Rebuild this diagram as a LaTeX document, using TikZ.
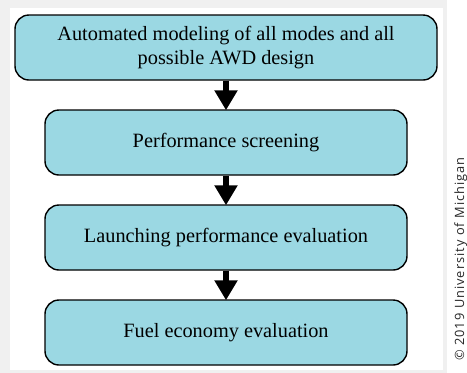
\documentclass[tikz,border=0pt]{standalone}
\usepackage{fontspec}
\setmainfont{Liberation Serif}
\newfontfamily\creditfont[LetterSpace=8]{Open Sans}
\usepackage{tikz}
\usetikzlibrary{arrows.meta,positioning}

\definecolor{stepfill}{RGB}{155,216,227}

\begin{document}
\begin{tikzpicture}[
    x=1pt,y=-1pt,
    box/.style={draw,line width=1.4pt,rounded corners=14pt,fill=stepfill,
                minimum width=#1,minimum height=65pt,align=center,
                font=\fontsize{20.3}{24}\selectfont,inner sep=0pt},
    arr/.style={-{Triangle[length=20pt,width=22pt]},line width=5.5pt,shorten >=-1pt},
    credit/.style={font=\creditfont\fontsize{12.8}{15}\selectfont,text=black!85,
                   rotate=90,inner sep=0pt,anchor=base},
]
\useasboundingbox (0,0) rectangle (467,373);

% panel with light shadow
\fill[black!6] (0,0) rectangle (447,373);
\fill[white] (10,8) rectangle (443,370);

% Flow steps
\node[box=422pt] (model)  at (226,47.5)  {Automated modeling of all modes and all\\possible AWD design};
\node[box=362pt] (screen) at (226,142.5) {Performance screening};
\node[box=362pt] (launch) at (226,237.5) {Launching performance evaluation};
\node[box=362pt] (fuel)   at (226,332.5) {Fuel economy evaluation};

\draw[arr] (model.south)  -- (screen.north);
\draw[arr] (screen.south) -- (launch.north);
\draw[arr] (launch.south) -- (fuel.north);

% Credit line
\node[credit] (copy) at (464,259) {\textcopyright\ 2019 University of Michigan};

\end{tikzpicture}
\end{document}
